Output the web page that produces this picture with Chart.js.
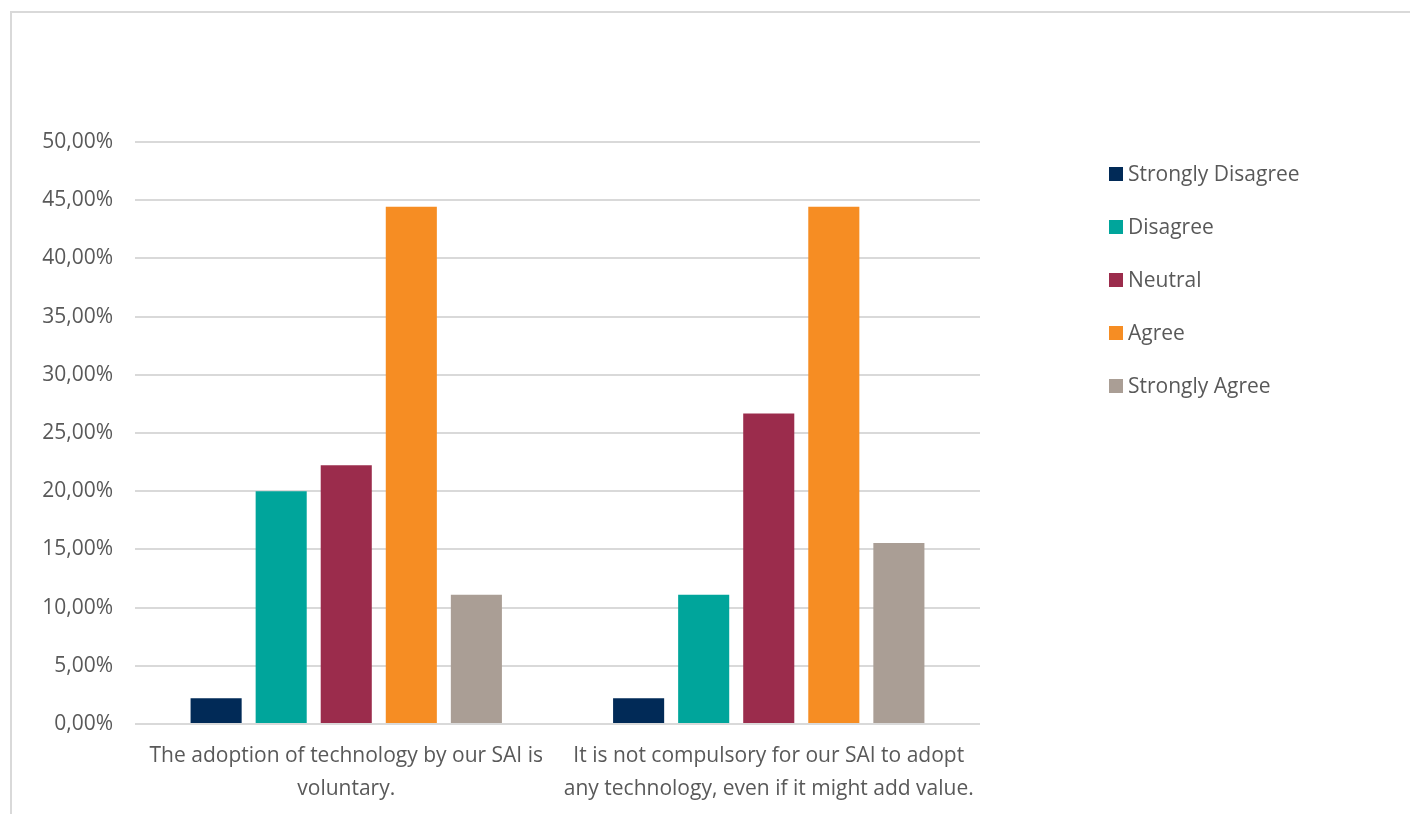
<!DOCTYPE html>
<html>
<head>
<meta charset="utf-8">
<script src="https://cdn.jsdelivr.net/npm/chart.js@4.4.1/dist/chart.umd.min.js"></script>
<style>
  body { margin: 0; background: #fff; }
  #wrap { position: relative; width: 1410px; height: 814px; }
  #frame { position: absolute; left: 10px; top: 11px; width: 1420px; height: 820px; border: 2px solid #d9d9d9; box-sizing: border-box; }
  canvas { position: absolute; left: 0; top: 0; }
</style>
</head>
<body>
<div id="wrap">
  <div id="frame"></div>
  <canvas id="surveyChart"></canvas>
</div>
<script>
const categories = [
  ["The adoption of technology by our SAI is", "voluntary."],
  ["It is not compulsory for our SAI to adopt", "any technology, even if it might add value."]
];
const seriesNames = ["Strongly Disagree", "Disagree", "Neutral", "Agree", "Strongly Agree"];
const stronglyDisagree = [2.22, 2.22];
const disagree = [20.0, 11.11];
const neutral = [22.22, 26.67];
const agree = [44.44, 44.44];
const stronglyAgree = [11.11, 15.56];
const seriesColors = ["#012a57", "#00a59b", "#9b2c4c", "#f68d23", "#aa9e95"];

const textColor = "#595959";
const fontFamily = "'Open Sans', sans-serif";

// simple legend on the right, drawn from the datasets
const sideLegend = {
  id: "sideLegend",
  afterDraw(chart) {
    const ctx = chart.ctx;
    ctx.save();
    ctx.font = "21px " + fontFamily;
    ctx.textBaseline = "middle";
    ctx.textAlign = "left";
    chart.data.datasets.forEach((ds, i) => {
      const y = 174 + i * 53;
      ctx.fillStyle = ds.backgroundColor;
      ctx.fillRect(1109, y - 7, 14, 14);
      ctx.fillStyle = textColor;
      ctx.fillText(ds.label, 1128, y + 1);
    });
    ctx.restore();
  }
};

const values = [stronglyDisagree, disagree, neutral, agree, stronglyAgree];

const ctx = document.getElementById("surveyChart").getContext("2d");
const surveyChart = new Chart(ctx, {
  type: "bar",
  data: {
    labels: categories,
    datasets: seriesNames.map((name, i) => ({
      label: name,
      data: values[i],
      backgroundColor: seriesColors[i],
      categoryPercentage: 0.77,
      barPercentage: 0.785
    }))
  },
  options: {
    responsive: true,
    maintainAspectRatio: false,
    animation: false,
    layout: { padding: { left: 10, right: 430, top: 142, bottom: 0 } },
    plugins: {
      legend: { display: false },
      tooltip: { enabled: false }
    },
    scales: {
      x: {
        grid: { display: false, drawTicks: false },
        border: { display: false },
        ticks: {
          color: textColor,
          font: { family: fontFamily, size: 21, lineHeight: 1.55 },
          padding: 16,
          maxRotation: 0,
          autoSkip: false
        },
        afterFit(scale) { scale.height = 90; }
      },
      y: {
        min: 0,
        max: 50,
        grid: { color: "#d9d9d9", lineWidth: 2, drawTicks: false },
        border: { display: false },
        ticks: {
          stepSize: 5,
          color: textColor,
          font: { family: fontFamily, size: 21 },
          padding: 22,
          callback: (v) => v.toFixed(2).replace(".", ",") + "%"
        },
        afterFit(scale) { scale.width = 125; }
      }
    }
  },
  plugins: [sideLegend]
});
</script>
</body>
</html>
